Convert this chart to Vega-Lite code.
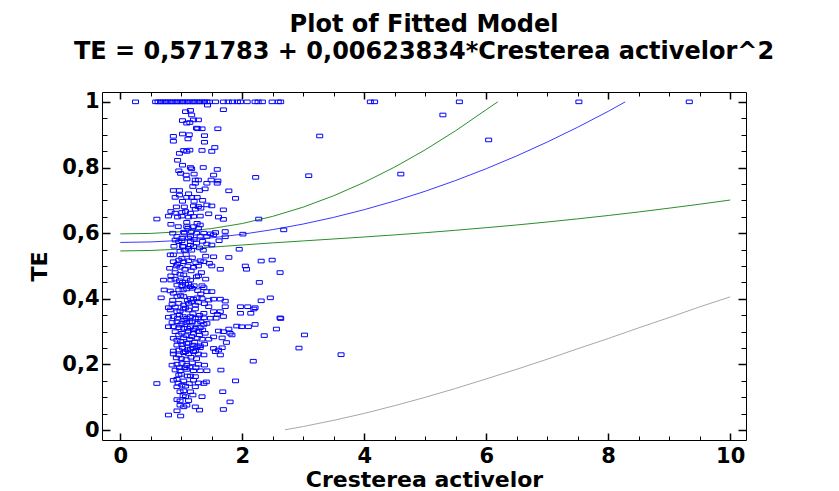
{
  "$schema": "https://vega.github.io/schema/vega-lite/v6.json",
  "width": 644,
  "height": 348,
  "autosize": {"type": "none"},
  "padding": {"left": 102, "top": 92, "right": 93, "bottom": 51},
  "background": "white",
  "title": {
    "text": ["Plot of Fitted Model", "TE = 0,571783 + 0,00623834*Cresterea activelor^2"],
    "font": "DejaVu Sans", "fontSize": 24, "fontWeight": "bold", "lineHeight": 27,
    "anchor": "middle", "offset": 27, "color": "black"
  },
  "config": {
    "view": {"stroke": "black", "strokeWidth": 1},
    "axis": {
      "grid": false, "labelFont": "DejaVu Sans", "labelFontWeight": "bold", "labelFontSize": 21,
      "labelColor": "black", "titleFont": "DejaVu Sans", "titleFontWeight": "bold", "titleFontSize": 22,
      "titleColor": "black", "tickColor": "black", "labelFlush": false, "labelOverlap": false
    }
  },
  "datasets": {
    "pts": [
      {"x":0.25,"y":1},{"x":0.58,"y":1},{"x":0.62,"y":1},{"x":0.66,"y":1},{"x":0.7,"y":1},{"x":0.74,"y":1},{"x":0.78,"y":1},{"x":0.82,"y":1},{"x":0.86,"y":1},{"x":0.9,"y":1},{"x":0.94,"y":1},{"x":0.98,"y":1},{"x":1.02,"y":1},{"x":1.06,"y":1},{"x":1.1,"y":1},{"x":1.14,"y":1},{"x":1.18,"y":1},{"x":1.22,"y":1},{"x":1.26,"y":1},{"x":1.3,"y":1},{"x":1.34,"y":1},{"x":1.38,"y":1},{"x":1.42,"y":1},{"x":1.46,"y":1},{"x":1.56,"y":1},{"x":1.69,"y":1},{"x":1.77,"y":1},{"x":1.84,"y":1},{"x":1.92,"y":1},{"x":1.97,"y":1},{"x":2.08,"y":1},{"x":2.21,"y":1},{"x":2.26,"y":1},{"x":2.33,"y":1},{"x":2.49,"y":1},{"x":2.59,"y":1},{"x":2.63,"y":1},{"x":4.1,"y":1},{"x":4.17,"y":1},{"x":5.56,"y":1},{"x":7.52,"y":1},{"x":9.33,"y":1},{"x":1.43,"y":0.99},
      {"x":1.07,"y":0.97},{"x":1.15,"y":0.974},{"x":1.17,"y":0.96},{"x":1.69,"y":0.976},{"x":1.02,"y":0.943},{"x":1.09,"y":0.935},{"x":1.14,"y":0.937},{"x":1.2,"y":0.945},{"x":1.28,"y":0.945},{"x":1.25,"y":0.92},{"x":1.27,"y":0.918},{"x":1.34,"y":0.918},{"x":1.6,"y":0.918},{"x":0.87,"y":0.895},{"x":1.02,"y":0.902},{"x":1.13,"y":0.9},{"x":1.11,"y":0.887},{"x":1.38,"y":0.897},{"x":0.87,"y":0.88},{"x":1.38,"y":0.877},{"x":1.55,"y":0.861},{"x":1.04,"y":0.852},{"x":1.09,"y":0.849},{"x":1.14,"y":0.853},{"x":0.97,"y":0.843},{"x":1.34,"y":0.852},{"x":1.5,"y":0.849},{"x":0.94,"y":0.822},{"x":1.02,"y":0.807},{"x":1.15,"y":0.8},{"x":1.17,"y":0.796},{"x":1.36,"y":0.8},{"x":1.59,"y":0.794},{"x":0.96,"y":0.79},{"x":0.99,"y":0.782},{"x":1.08,"y":0.777},{"x":1.21,"y":0.78},{"x":1.53,"y":0.777},{"x":2.22,"y":0.77},{"x":1.09,"y":0.765},{"x":1.23,"y":0.762},{"x":1.28,"y":0.762},{"x":1.49,"y":0.762},{"x":1.6,"y":0.759},{"x":1.23,"y":0.752},{"x":1.42,"y":0.752},{"x":1.59,"y":0.752},
      {"x":0.87,"y":0.73},{"x":0.97,"y":0.73},{"x":1.19,"y":0.742},{"x":1.39,"y":0.735},{"x":1.78,"y":0.729},{"x":0.9,"y":0.709},{"x":0.97,"y":0.716},{"x":1.09,"y":0.709},{"x":1.17,"y":0.709},{"x":1.26,"y":0.709},{"x":1.89,"y":0.706},{"x":1.02,"y":0.697},{"x":1.21,"y":0.697},{"x":1.2,"y":0.683},{"x":1.28,"y":0.681},{"x":1.42,"y":0.686},{"x":1.5,"y":0.683},{"x":1.23,"y":0.673},{"x":1.32,"y":0.676},{"x":1.69,"y":0.671},{"x":0.83,"y":0.666},{"x":0.9,"y":0.661},{"x":1.01,"y":0.663},{"x":1.07,"y":0.666},{"x":1.15,"y":0.661},{"x":0.79,"y":0.652},{"x":0.6,"y":0.643},{"x":0.94,"y":0.649},{"x":1.01,"y":0.652},{"x":1.12,"y":0.649},{"x":1.2,"y":0.651},{"x":1.31,"y":0.652},{"x":1.45,"y":0.659},{"x":1.61,"y":0.649},{"x":1.69,"y":0.642},{"x":2.27,"y":0.643},{"x":1.09,"y":0.633},{"x":1.26,"y":0.63},{"x":1.31,"y":0.625},{"x":0.83,"y":0.627},{"x":1.09,"y":0.62},{"x":1.2,"y":0.62},{"x":1.28,"y":0.615},{"x":1.04,"y":0.603},{"x":1.17,"y":0.605},{"x":1.37,"y":0.6},{"x":1.48,"y":0.598},{"x":1.56,"y":0.602},{"x":1.72,"y":0.605},{"x":2.01,"y":0.597},{"x":2.68,"y":0.61},{"x":0.93,"y":0.59},{"x":1.01,"y":0.584},{"x":1.15,"y":0.59},{"x":1.31,"y":0.591},{"x":1.42,"y":0.59},{"x":1.53,"y":0.595},{"x":0.9,"y":0.579},{"x":0.96,"y":0.574},{"x":1.01,"y":0.577},{"x":1.15,"y":0.574},{"x":1.21,"y":0.581},{"x":1.62,"y":0.577},{"x":1.72,"y":0.589},{"x":1.15,"y":0.564},{"x":1.42,"y":0.567},{"x":1.5,"y":0.564},{"x":1.04,"y":0.559},{"x":1.12,"y":0.554},{"x":1.2,"y":0.559},{"x":1.17,"y":0.548},{"x":1.05,"y":0.548},{"x":1.36,"y":0.548},{"x":1.95,"y":0.551},{"x":0.82,"y":0.534},{"x":0.87,"y":0.534},{"x":1.53,"y":0.528},{"x":1.78,"y":0.526},{"x":1.01,"y":0.523},{"x":1.04,"y":0.513},{"x":1.12,"y":0.516},{"x":1.31,"y":0.516},{"x":1.37,"y":0.513},{"x":1.46,"y":0.508},{"x":1.5,"y":0.5},{"x":0.87,"y":0.513},{"x":0.96,"y":0.518},{"x":0.81,"y":0.493},{"x":0.92,"y":0.5},{"x":0.98,"y":0.496},{"x":1.11,"y":0.5},{"x":1.2,"y":0.496},{"x":1.28,"y":0.5},{"x":1.64,"y":0.49},{"x":2.05,"y":0.5},{"x":2.07,"y":0.49},{"x":2.31,"y":0.515},{"x":2.49,"y":0.518},
      {"x":2.62,"y":0.48},{"x":0.9,"y":0.48},{"x":0.98,"y":0.475},{"x":1.04,"y":0.473},{"x":0.83,"y":0.47},{"x":0.71,"y":0.457},{"x":0.83,"y":0.457},{"x":0.9,"y":0.46},{"x":1.09,"y":0.462},{"x":1.15,"y":0.457},{"x":1.25,"y":0.467},{"x":1.28,"y":0.47},{"x":2.28,"y":0.45},{"x":0.93,"y":0.442},{"x":1.01,"y":0.44},{"x":1.07,"y":0.444},{"x":1.15,"y":0.437},{"x":1.21,"y":0.44},{"x":1.34,"y":0.44},{"x":1.37,"y":0.434},{"x":0.72,"y":0.427},{"x":0.82,"y":0.424},{"x":0.87,"y":0.417},{"x":0.96,"y":0.427},{"x":1.03,"y":0.427},{"x":1.09,"y":0.43},{"x":1.18,"y":0.432},{"x":1.42,"y":0.422},{"x":1.5,"y":0.422},{"x":0.67,"y":0.403},{"x":0.86,"y":0.396},{"x":0.93,"y":0.407},{"x":1.04,"y":0.407},{"x":1.15,"y":0.401},{"x":1.2,"y":0.399},{"x":1.26,"y":0.403},{"x":1.34,"y":0.401},{"x":1.45,"y":0.396},{"x":1.53,"y":0.399},{"x":1.64,"y":0.399},{"x":1.72,"y":0.393},{"x":2.46,"y":0.403},{"x":2.31,"y":0.394},{"x":0.85,"y":0.383},{"x":0.96,"y":0.386},{"x":1.04,"y":0.381},{"x":1.12,"y":0.386},{"x":1.23,"y":0.381},{"x":1.28,"y":0.389},{"x":1.45,"y":0.376},{"x":1.72,"y":0.376},{"x":1.97,"y":0.376},{"x":2.09,"y":0.376},{"x":2.21,"y":0.373},{"x":2.19,"y":0.369},{"x":0.79,"y":0.373},{"x":0.82,"y":0.366},{"x":0.93,"y":0.361},{"x":0.98,"y":0.363},{"x":1.04,"y":0.369},{"x":1.12,"y":0.366},{"x":1.23,"y":0.369},{"x":1.37,"y":0.356},{"x":1.53,"y":0.361},{"x":1.64,"y":0.361},{"x":1.59,"y":0.353},{"x":1.97,"y":0.356},{"x":2.14,"y":0.356},{"x":2.62,"y":0.342},{"x":0.79,"y":0.344},{"x":0.87,"y":0.346},{"x":0.94,"y":0.341},{"x":1.03,"y":0.346},{"x":1.09,"y":0.341},{"x":1.15,"y":0.346},{"x":1.23,"y":0.341},{"x":1.28,"y":0.342},{"x":1.37,"y":0.342},{"x":1.48,"y":0.341},{"x":1.57,"y":0.341},{"x":1.69,"y":0.346},{"x":0.85,"y":0.328},{"x":0.93,"y":0.33},{"x":1.01,"y":0.325},{"x":1.09,"y":0.328},{"x":1.18,"y":0.33},{"x":1.26,"y":0.325},{"x":1.37,"y":0.322},{"x":1.42,"y":0.325},{"x":0.79,"y":0.315},{"x":0.87,"y":0.315},{"x":0.96,"y":0.312},{"x":1.04,"y":0.31},{"x":1.15,"y":0.315},{"x":1.23,"y":0.31},{"x":1.31,"y":0.312},{"x":1.91,"y":0.317},{"x":1.99,"y":0.315},{"x":2.1,"y":0.315},{"x":2.21,"y":0.322},{"x":2.56,"y":0.308},{"x":1.61,"y":0.302},{"x":1.69,"y":0.3},{"x":1.78,"y":0.308},{"x":0.9,"y":0.3},{"x":1.01,"y":0.295},{"x":1.12,"y":0.302},{"x":1.2,"y":0.295},{"x":1.28,"y":0.3},{"x":1.39,"y":0.295},{"x":1.83,"y":0.29},{"x":1.8,"y":0.295},{"x":0.87,"y":0.28},{"x":0.93,"y":0.274},{"x":1.04,"y":0.281},{"x":1.14,"y":0.277},{"x":1.26,"y":0.28},{"x":1.34,"y":0.277},{"x":1.45,"y":0.277},{"x":1.53,"y":0.284},{"x":1.67,"y":0.281},{"x":2.36,"y":0.288},{"x":0.93,"y":0.259},{"x":1.01,"y":0.261},{"x":1.09,"y":0.264},{"x":1.19,"y":0.259},{"x":1.26,"y":0.254},{"x":1.31,"y":0.257},{"x":1.74,"y":0.267},{"x":0.87,"y":0.241},{"x":0.96,"y":0.244},{"x":1.07,"y":0.239},{"x":1.15,"y":0.247},{"x":1.23,"y":0.241},{"x":1.31,"y":0.251},{"x":1.53,"y":0.249},{"x":1.61,"y":0.244},{"x":1.67,"y":0.251},
      {"x":0.87,"y":0.232},{"x":0.96,"y":0.229},{"x":1.04,"y":0.236},{"x":1.12,"y":0.232},{"x":1.2,"y":0.239},{"x":1.28,"y":0.232},{"x":1.37,"y":0.229},{"x":1.56,"y":0.239},{"x":1.64,"y":0.229},{"x":2.18,"y":0.21},{"x":0.85,"y":0.198},{"x":0.93,"y":0.201},{"x":1.01,"y":0.203},{"x":1.09,"y":0.198},{"x":1.18,"y":0.205},{"x":1.28,"y":0.201},{"x":1.38,"y":0.198},{"x":0.9,"y":0.183},{"x":0.98,"y":0.181},{"x":1.09,"y":0.185},{"x":1.2,"y":0.181},{"x":1.31,"y":0.181},{"x":1.42,"y":0.181},{"x":1.65,"y":0.183},{"x":0.96,"y":0.168},{"x":1.15,"y":0.165},{"x":1.23,"y":0.163},{"x":0.6,"y":0.142},{"x":0.87,"y":0.152},{"x":0.93,"y":0.155},{"x":1.04,"y":0.15},{"x":1.2,"y":0.152},{"x":1.28,"y":0.144},{"x":1.37,"y":0.142},{"x":1.41,"y":0.147},{"x":1.89,"y":0.15},{"x":0.93,"y":0.132},{"x":1.01,"y":0.137},{"x":1.07,"y":0.134},{"x":1.23,"y":0.132},{"x":0.98,"y":0.117},{"x":1.04,"y":0.12},{"x":1.15,"y":0.117},{"x":1.68,"y":0.117},{"x":1.07,"y":0.102},{"x":1.19,"y":0.107},{"x":1.34,"y":0.102},{"x":0.93,"y":0.093},{"x":0.98,"y":0.089},{"x":1.8,"y":0.086},{"x":0.98,"y":0.076},{"x":1.04,"y":0.071},{"x":1.09,"y":0.076},{"x":1.23,"y":0.071},{"x":1.3,"y":0.061},{"x":1.69,"y":0.063},{"x":0.93,"y":0.059},{"x":0.79,"y":0.046},{"x":0.99,"y":0.043},
      {"x":3.27,"y":0.896},{"x":3.09,"y":0.775},{"x":5.29,"y":0.96},{"x":4.6,"y":0.78},{"x":2.63,"y":0.34},{"x":3.02,"y":0.29},{"x":2.93,"y":0.25},{"x":3.62,"y":0.23},{"x":6.04,"y":0.884},
      {"x":0.95,"y":0.62},{"x":1.05,"y":0.6},{"x":1.12,"y":0.585},{"x":1.25,"y":0.57},{"x":1.3,"y":0.555},{"x":0.98,"y":0.545},{"x":1.08,"y":0.535},{"x":1.18,"y":0.525},{"x":1.24,"y":0.51},{"x":0.94,"y":0.505},{"x":1.06,"y":0.49},{"x":1.16,"y":0.485},{"x":1.33,"y":0.48},{"x":1.4,"y":0.46},{"x":0.97,"y":0.455},{"x":1.02,"y":0.45},{"x":1.12,"y":0.445},{"x":1.27,"y":0.425},{"x":1.32,"y":0.415},{"x":0.99,"y":0.41},{"x":1.1,"y":0.395},{"x":1.17,"y":0.39},{"x":1.38,"y":0.385},{"x":0.9,"y":0.375},{"x":1.07,"y":0.372},{"x":1.19,"y":0.355},{"x":1.3,"y":0.35},{"x":0.97,"y":0.35},{"x":1.06,"y":0.335},{"x":1.13,"y":0.33},{"x":1.32,"y":0.33},{"x":0.98,"y":0.32},{"x":1.1,"y":0.31},{"x":1.2,"y":0.305},{"x":1.35,"y":0.305},{"x":0.96,"y":0.29},{"x":1.08,"y":0.288},{"x":1.17,"y":0.285},{"x":1.3,"y":0.29},{"x":0.99,"y":0.27},{"x":1.12,"y":0.265},{"x":1.22,"y":0.268},{"x":1.38,"y":0.262},{"x":1.02,"y":0.25},{"x":1.1,"y":0.245},{"x":1.19,"y":0.25},{"x":0.92,"y":0.22},{"x":1.0,"y":0.218},{"x":1.08,"y":0.215},{"x":1.16,"y":0.222},{"x":1.25,"y":0.218},{"x":0.97,"y":0.19},{"x":1.06,"y":0.19},{"x":1.14,"y":0.192},{"x":1.24,"y":0.19},{"x":1.0,"y":0.17},{"x":1.1,"y":0.165},{"x":0.95,"y":0.143},{"x":1.13,"y":0.142},{"x":1.03,"y":0.105},{"x":1.12,"y":0.09},{"x":1.02,"y":0.56},{"x":1.11,"y":0.615},{"x":0.88,"y":0.56},{"x":0.86,"y":0.6},{"x":1.35,"y":0.575},{"x":1.25,"y":0.6},{"x":1.4,"y":0.53},{"x":0.92,"y":0.68},{"x":1.05,"y":0.68},{"x":1.35,"y":0.7},{"x":1.12,"y":0.72},{"x":1.3,"y":0.73}
    ],
    "fit": [
      {"x":0,"y":0.5718},{"x":0.5,"y":0.5733},{"x":1,"y":0.578},{"x":1.5,"y":0.5858},{"x":2,"y":0.5967},{"x":2.5,"y":0.6108},{"x":3,"y":0.6279},{"x":3.5,"y":0.6482},{"x":4,"y":0.6716},{"x":4.5,"y":0.6981},{"x":5,"y":0.7277},{"x":5.5,"y":0.7605},{"x":6,"y":0.7964},{"x":6.5,"y":0.8353},{"x":7,"y":0.8775},{"x":7.5,"y":0.9227},{"x":8,"y":0.971},{"x":8.28,"y":1.0}
    ],
    "upper": [
      {"x":0,"y":0.5978},{"x":0.5,"y":0.5993},{"x":1,"y":0.6045},{"x":1.5,"y":0.6141},{"x":2,"y":0.6294},{"x":2.5,"y":0.6512},{"x":3,"y":0.6794},{"x":3.5,"y":0.7141},{"x":4,"y":0.7548},{"x":4.5,"y":0.8014},{"x":5,"y":0.8539},{"x":5.5,"y":0.9122},{"x":6,"y":0.9761},{"x":6.19,"y":1.0}
    ],
    "lower": [
      {"x":0,"y":0.5458},{"x":0.5,"y":0.5473},{"x":1,"y":0.5515},{"x":1.5,"y":0.5575},{"x":2,"y":0.564},{"x":2.5,"y":0.5704},{"x":3,"y":0.5764},{"x":3.5,"y":0.5823},{"x":4,"y":0.5884},{"x":4.5,"y":0.5948},{"x":5,"y":0.6015},{"x":5.5,"y":0.6088},{"x":6,"y":0.6167},{"x":6.5,"y":0.625},{"x":7,"y":0.634},{"x":7.5,"y":0.6436},{"x":8,"y":0.6538},{"x":8.5,"y":0.6646},{"x":9,"y":0.6762},{"x":9.5,"y":0.6882},{"x":10,"y":0.7009}
    ],
    "pred": [
      {"x":2.7,"y":0.001},{"x":3,"y":0.011},{"x":3.5,"y":0.03},{"x":4,"y":0.051},{"x":4.5,"y":0.0747},{"x":5,"y":0.1},{"x":5.5,"y":0.1272},{"x":6,"y":0.156},{"x":6.5,"y":0.1855},{"x":7,"y":0.216},{"x":7.5,"y":0.248},{"x":8,"y":0.279},{"x":8.5,"y":0.3116},{"x":9,"y":0.343},{"x":9.5,"y":0.3754},{"x":10,"y":0.406}
    ]
  },
  "resolve": {"axis": {"x": "independent", "y": "independent"}},
  "layer": [
    {
      "data": {"name": "pred"},
      "mark": {"type": "line", "color": "#a8a8a8", "strokeWidth": 1, "clip": true},
      "encoding": {
        "x": {"field": "x", "type": "quantitative", "scale": {"domain": [-0.3, 10.26], "nice": false, "zero": false},
              "axis": {"orient": "top", "values": [0.5,1,1.5,2.5,3,3.5,4.5,5,5.5,6.5,7,7.5,8.5,9,9.5], "labels": false, "domain": false, "title": null, "tickSize": -4}},
        "y": {"field": "y", "type": "quantitative", "scale": {"domain": [-0.03, 1.03], "nice": false, "zero": false},
              "axis": {"orient": "right", "values": [0.05,0.1,0.15,0.25,0.3,0.35,0.45,0.5,0.55,0.65,0.7,0.75,0.85,0.9,0.95], "labels": false, "domain": false, "title": null, "tickSize": -5}}
      }
    },
    {
      "data": {"name": "lower"},
      "mark": {"type": "line", "color": "#2a8f2a", "strokeWidth": 1, "clip": true},
      "encoding": {
        "x": {"field": "x", "type": "quantitative", "axis": {"orient": "top", "values": [0,2,4,6,8,10], "labels": false, "domain": false, "title": null, "tickSize": -7, "tickWidth": 1.5}},
        "y": {"field": "y", "type": "quantitative", "axis": {"orient": "right", "values": [0,0.2,0.4,0.6,0.8,1], "labels": false, "domain": false, "title": null, "tickSize": -8, "tickWidth": 1.5}}
      }
    },
    {
      "data": {"name": "upper"},
      "mark": {"type": "line", "color": "#2a8f2a", "strokeWidth": 1, "clip": true},
      "encoding": {
        "x": {"field": "x", "type": "quantitative", "axis": {"orient": "bottom", "values": [0.5,1,1.5,2.5,3,3.5,4.5,5,5.5,6.5,7,7.5,8.5,9,9.5], "labels": false, "domain": false, "title": null, "tickSize": -4}},
        "y": {"field": "y", "type": "quantitative", "axis": {"orient": "left", "values": [0.05,0.1,0.15,0.25,0.3,0.35,0.45,0.5,0.55,0.65,0.7,0.75,0.85,0.9,0.95], "labels": false, "domain": false, "title": null, "tickSize": -5}}
      }
    },
    {
      "data": {"name": "fit"},
      "mark": {"type": "line", "color": "#3a3aff", "strokeWidth": 1, "clip": true},
      "encoding": {
        "x": {"field": "x", "type": "quantitative", "axis": {"orient": "bottom", "values": [0,2,4,6,8,10], "labels": false, "domain": false, "title": null, "tickSize": -7, "tickWidth": 1.5}},
        "y": {"field": "y", "type": "quantitative", "axis": {"orient": "left", "values": [0,0.2,0.4,0.6,0.8,1], "labels": false, "domain": false, "title": null, "tickSize": -8, "tickWidth": 1.5}}
      }
    },
    {
      "data": {"name": "pts"},
      "mark": {"type": "point", "shape": "M-1,-0.6H1V0.6H-1Z", "size": 36, "filled": false, "stroke": "#0000ff", "strokeWidth": 1, "opacity": 1, "clip": true},
      "encoding": {
        "x": {"field": "x", "type": "quantitative",
              "axis": {"orient": "bottom", "values": [0,2,4,6,8,10], "ticks": false, "domain": false, "labelPadding": 5,
                       "labelExpr": "replace(format(datum.value, '~g'), '.', ',')", "title": "Cresterea activelor", "titlePadding": 3}},
        "y": {"field": "y", "type": "quantitative",
              "axis": {"orient": "left", "values": [0,0.2,0.4,0.6,0.8,1], "ticks": false, "domain": false, "labelPadding": 3,
                       "labelExpr": "replace(format(datum.value, '~g'), '.', ',')", "title": "TE", "titlePadding": 10}}
      }
    }
  ]
}
